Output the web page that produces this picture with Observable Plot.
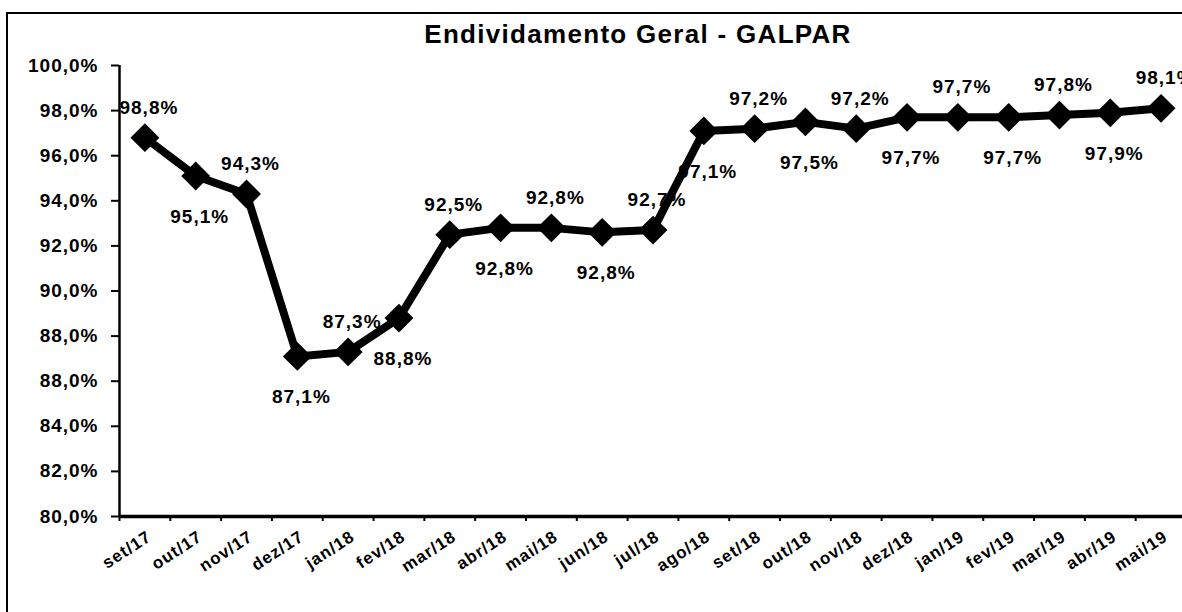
<!DOCTYPE html>
<html><head><meta charset="utf-8">
<script src="https://cdn.jsdelivr.net/npm/d3@7"></script>
<script src="https://cdn.jsdelivr.net/npm/@observablehq/plot@0.6"></script>
<style>
html,body{margin:0;padding:0;background:#fff;}
#wrap{position:relative;width:1182px;height:612px;overflow:hidden;background:#fff;font-family:Arial,"Liberation Sans",sans-serif;}
#frame{position:absolute;left:6px;top:12px;width:1300px;height:800px;border:2.5px solid #000;box-sizing:border-box;}
#title{position:absolute;left:0;width:1276px;top:21px;text-align:center;font-weight:bold;font-size:26px;line-height:26px;letter-spacing:1.3px;color:#000;}
#chart{position:absolute;left:0;top:0;}
</style></head>
<body><div id="wrap"><div id="frame"></div><div id="title"></div><div id="chart"></div></div>
<script>
const title = "Endividamento Geral - GALPAR";
const months = ["set/17","out/17","nov/17","dez/17","jan/18","fev/18","mar/18","abr/18","mai/18","jun/18","jul/18","ago/18","set/18","out/18","nov/18","dez/18","jan/19","fev/19","mar/19","abr/19","mai/19"];
const values = [96.8,95.1,94.3,87.1,87.3,88.8,92.5,92.8,92.8,92.6,92.7,97.1,97.2,97.5,97.2,97.7,97.7,97.7,97.8,97.9,98.1];
const valueLabels = ["98,8%","95,1%","94,3%","87,1%","87,3%","88,8%","92,5%","92,8%","92,8%","92,8%","92,7%","97,1%","97,2%","97,5%","97,2%","97,7%","97,7%","97,7%","97,8%","97,9%","98,1%"];
const yTicks = [80,82,84,86,88,90,92,94,96,98,100];
const yTickLabels = ["80,0%","82,0%","84,0%","88,0%","88,0%","90,0%","92,0%","94,0%","96,0%","98,0%","100,0%"];

document.getElementById("title").textContent = title;
const font = 'Arial, "Liberation Sans", sans-serif';
const data = months.map((m,i)=>({m, x:i+0.5, v:values[i], label:valueLabels[i], above:i%2===0}));
const plot = Plot.plot({
  width:1182, height:612, marginTop:65, marginBottom:96, marginLeft:119, marginRight:0,
  style:{background:"transparent", fontFamily:font, fontSize:"18px", fontWeight:"bold", letterSpacing:"1px", color:"#000", overflow:"visible"},
  x:{domain:[0, months.length], range:[119,1186], axis:null},
  y:{domain:[80,100], axis:null},
  marks:[
    Plot.axisY({ticks:yTicks, tickFormat:d=>yTickLabels[yTicks.indexOf(d)], tickSize:8, tickPadding:13, strokeWidth:2, fontSize:19, fontWeight:"bold", label:null}),
    Plot.axisX({ticks:d3.range(months.length), tickFormat:()=>"", tickSize:5, strokeWidth:2, label:null}),
    Plot.ruleX([0],{y1:80,y2:100,strokeWidth:2.5}),
    Plot.ruleY([80],{strokeWidth:3.5}),
    Plot.line(data,{x:"x",y:"v",stroke:"#000",strokeWidth:8,strokeLinejoin:"round"}),
    Plot.dot(data,{x:"x",y:"v",symbol:"diamond2",r:13,fill:"#000",stroke:null}),
    Plot.text(data.filter(d=>d.above),{x:"x",y:"v",text:"label",dx:4,dy:-30,fontSize:19,fontWeight:"bold",fill:"#000"}),
    Plot.text(data.filter(d=>!d.above),{x:"x",y:"v",text:"label",dx:4,dy:41,fontSize:19,fontWeight:"bold",fill:"#000"}),
    Plot.text(data,{x:"x",frameAnchor:"bottom",text:"m",rotate:-33,textAnchor:"end",lineAnchor:"top",dx:1,dy:13,fontSize:17,fontWeight:"bold",fill:"#000"})
  ]
});
document.getElementById("chart").appendChild(plot);
</script>
</body></html>
